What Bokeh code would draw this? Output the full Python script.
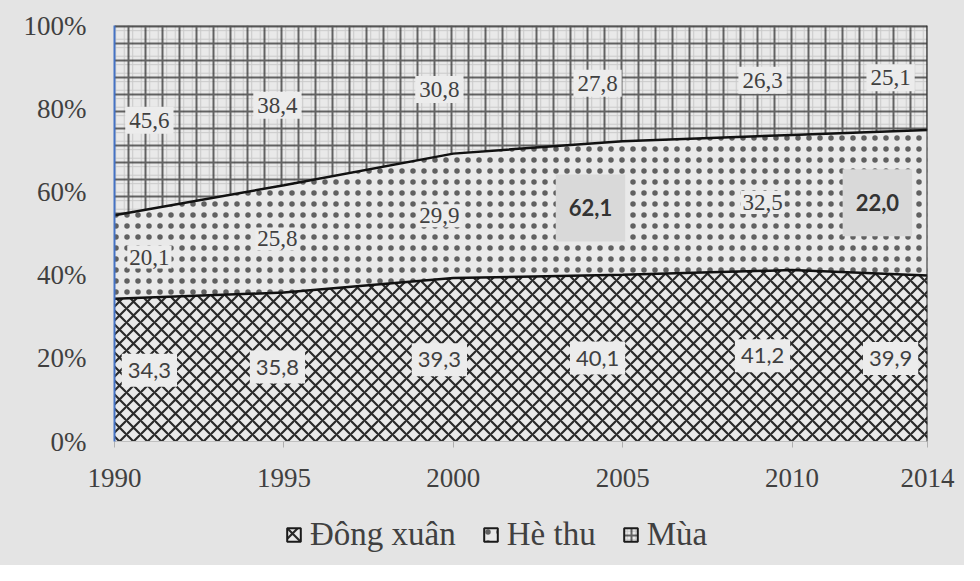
import numpy as np
from bokeh.plotting import figure
from bokeh.layouts import column
from bokeh.models import (Range1d, FixedTicker, PrintfTickFormatter, Legend, LegendItem,
                          Span, ColumnDataSource)
from bokeh.core.properties import value
from bokeh.embed import file_html
from bokeh.resources import INLINE

# ---- data ----
years = [1990, 1995, 2000, 2005, 2010, 2014]
dong_xuan = [34.3, 35.8, 39.3, 40.1, 41.2, 39.9]
he_thu = [20.1, 25.8, 29.9, 32.1, 32.5, 35.0]
mua = [45.6, 38.4, 30.8, 27.8, 26.3, 25.1]
# labels as printed on the chart
dong_xuan_labels = ["34,3", "35,8", "39,3", "40,1", "41,2", "39,9"]
he_thu_labels = ["20,1", "25,8", "29,9", "62,1", "32,5", "22,0"]
mua_labels = ["45,6", "38,4", "30,8", "27,8", "26,3", "25,1"]
series_names = ["Đông xuân", "Hè thu", "Mùa"]
y_ticks = [0, 20, 40, 60, 80, 100]

# ---- layout constants (label anchor x positions in data units) ----
label_x = [1991.03, 1994.81, 1999.59, 2004.26, 2009.13, 2012.91]
label_x_he = [1991.03, 1994.81, 1999.59, 2004.05, 2009.13, 2012.52]
boxed_he = [False, False, False, True, False, True]

BG = "#e9e9e9"
OUTER = "#e4e4e4"
TXT = "#404040"

STYLE_DX = dict(hatch_pattern="diagonal_cross", hatch_color="#2a2a2a", hatch_scale=14, hatch_weight=2.2)
STYLE_HT = dict(hatch_pattern="dot", hatch_color="#333333", hatch_scale=11, hatch_weight=0.2, hatch_alpha=0.75)
STYLE_M1 = dict(hatch_pattern="cross", hatch_color="#555555", hatch_scale=8.5, hatch_weight=1, hatch_alpha=0.22)
STYLE_M2 = dict(hatch_pattern="cross", hatch_color="#2a2a2a", hatch_scale=17, hatch_weight=2, hatch_alpha=0.7)

b1 = np.array(dong_xuan)
b2 = b1 + np.array(he_thu)
b3 = b2 + np.array(mua)

p = figure(width=964, height=505, output_backend="svg", toolbar_location=None,
           x_range=Range1d(years[0], years[-1]), y_range=Range1d(0, 100),
           min_border_left=114, min_border_right=37, min_border_top=25,
           min_border_bottom=64)
p.background_fill_color = BG
p.border_fill_color = OUTER
p.outline_line_color = None
p.xgrid.visible = False
p.ygrid.visible = False

p.varea(x=years, y1=0, y2=b1, fill_color=BG, **STYLE_DX)
p.varea(x=years, y1=b1, y2=b2, fill_color=BG, **STYLE_HT)
p.varea(x=years, y1=b2, y2=b3, fill_color=BG, **STYLE_M1)
p.varea(x=years, y1=b2, y2=b3, fill_alpha=0, **STYLE_M2)

p.line(years, b1, line_color="#111111", line_width=2.5)
p.line(years, b2, line_color="#111111", line_width=2.5)
p.line(years, b3, line_color="#333333", line_width=1.5)
p.add_layout(Span(location=years[-1], dimension="height", line_color="#222222", line_width=2))

# ---- labels ----
mid1 = b1 / 2
mid2 = (b1 + b2) / 2
mid3 = (b2 + b3) / 2

src_dx = ColumnDataSource(dict(x=label_x, y=mid1, t=dong_xuan_labels))
p.text(x="x", y="y", text="t", source=src_dx, text_align="center", text_baseline="middle",
       text_font=value("Lato"), text_font_size="22px", text_color=TXT,
       background_fill_color="#ececec", padding=(6, 9))

src_mua = ColumnDataSource(dict(x=label_x, y=mid3, t=mua_labels))
p.text(x="x", y="y", text="t", source=src_mua, text_align="center", text_baseline="middle",
       text_font=value("Liberation Serif"), text_font_size="23px", text_color=TXT,
       background_fill_color="#ececec", padding=(4, 6))

he_plain = [i for i, b in enumerate(boxed_he) if not b]
he_box = [i for i, b in enumerate(boxed_he) if b]
src_he = ColumnDataSource(dict(x=[label_x_he[i] for i in he_plain], y=mid2[he_plain],
                               t=[he_thu_labels[i] for i in he_plain]))
p.text(x="x", y="y", text="t", source=src_he, text_align="center", text_baseline="middle",
       text_font=value("Liberation Serif"), text_font_size="23px", text_color=TXT,
       background_fill_color="#ececec", padding=(2, 4))
src_heb = ColumnDataSource(dict(x=[label_x_he[i] for i in he_box], y=mid2[he_box],
                                t=[he_thu_labels[i] for i in he_box]))
p.text(x="x", y="y", text="t", source=src_heb, text_align="center", text_baseline="middle",
       text_font=value("Lato"), text_font_size="22px", text_font_style="bold",
       text_color="#333333", background_fill_color="#d9d9d9", padding=(13, 25))

# ---- axes ----
p.xaxis.ticker = FixedTicker(ticks=years)
p.yaxis.ticker = FixedTicker(ticks=y_ticks)
p.yaxis.formatter = PrintfTickFormatter(format="%d%%")
for ax in (p.xaxis[0], p.yaxis[0]):
    ax.major_label_text_font = "Liberation Serif"
    ax.major_label_text_font_size = "27px"
    ax.major_label_text_color = TXT
    ax.minor_tick_line_color = None
p.yaxis.axis_line_color = "#4472c4"
p.yaxis.axis_line_width = 2
p.yaxis.major_tick_line_color = None
p.yaxis.major_label_standoff = 22
p.xaxis.axis_line_color = "#c0c0c0"
p.xaxis.major_tick_line_color = "#b0b0b0"
p.xaxis.major_tick_out = 6
p.xaxis.major_tick_in = 0
p.xaxis.major_label_standoff = 21

# ---- legend strip (separate figure below the chart) ----
q = figure(width=964, height=60, output_backend="svg", toolbar_location=None,
           x_range=Range1d(0, 1), y_range=Range1d(0, 1),
           x_axis_location=None, y_axis_location=None,
           min_border_left=0, min_border_right=0, min_border_top=0, min_border_bottom=0)
q.background_fill_color = None
q.border_fill_color = None
q.outline_line_color = None
q.xgrid.visible = False
q.ygrid.visible = False

e = dict(x=[10, 11], y1=[10, 10], y2=[11, 11])
g1 = q.varea(fill_color=BG, **STYLE_DX, **e)
g2 = q.varea(fill_color=BG, **STYLE_HT, **e)
g3a = q.varea(fill_color=BG, **STYLE_M1, **e)
g3b = q.varea(fill_alpha=0, **STYLE_M2, **e)
box = q.quad(left=[10], right=[11], top=[11], bottom=[10], fill_alpha=0,
             line_color="#1a1a1a", line_width=2)

legend = Legend(items=[LegendItem(label=series_names[0], renderers=[g1, box]),
                       LegendItem(label=series_names[1], renderers=[g2, box]),
                       LegendItem(label=series_names[2], renderers=[g3a, g3b, box])],
                location=(171, 12), orientation="horizontal",
                label_text_font="Liberation Serif", label_text_font_size="33px",
                label_text_color=TXT, glyph_width=17, glyph_height=17,
                label_standoff=8, spacing=26, padding=0, margin=0,
                background_fill_alpha=0, border_line_color=None)
q.add_layout(legend)

layout = column(p, q, spacing=0, styles={"background-color": OUTER})
open("out.html", "w").write(file_html(layout, INLINE))
